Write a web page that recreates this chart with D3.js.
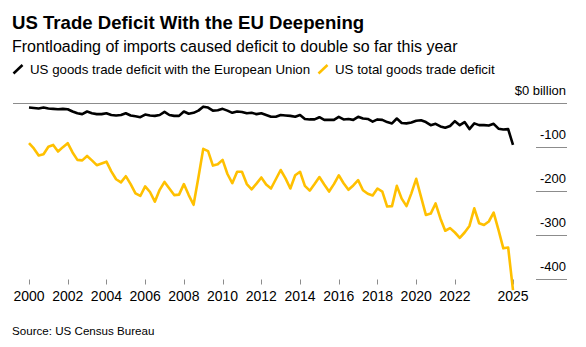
<!DOCTYPE html>
<html>
<head>
<meta charset="utf-8">
<script src="https://cdn.jsdelivr.net/npm/d3@7"></script>
<style>
  body { margin: 0; background: #fff; }
  text { font-family: "Liberation Sans", Arial, sans-serif; }
</style>
</head>
<body>
<div id="chart"></div>
<script>
// quarterly values, 2000 Q1 .. 2025 Q1, $ billion
var startYear = 2000;
var euDeficit = [
  -11, -12, -13, -11,  -13, -14, -15, -14,  -15, -20, -24, -26,  -20, -24, -26, -26,
  -24, -28, -29, -28,  -24, -29, -31, -33,  -27, -29, -30, -28,  -21, -28, -30, -30,
  -20, -25, -23, -18,  -9, -11, -18, -17,  -14, -18, -23, -20,  -21, -24, -23, -26,
  -24, -28, -32, -32,  -28, -29, -30, -32,  -28, -37, -38, -38,  -33, -39, -39, -39,
  -32, -38, -37, -39,  -32, -36, -37, -43,  -38, -39, -44, -47,  -36, -46, -47, -45,
  -41, -40, -44, -51,  -48, -54, -57, -53,  -42, -51, -44, -60,  -47, -51, -51, -52,
  -48, -59, -61, -60,  -96
];
var totalDeficit = [
  -92, -104, -120, -117,  -100, -96, -111, -101,  -92, -113, -130, -131,  -121, -131, -142, -138,
  -134, -156, -174, -181,  -167, -185, -206, -212,  -190, -203, -225, -198,  -180, -195, -210, -209,
  -185, -210, -232, -170,  -105, -110, -143, -140,  -130, -162, -183, -157,  -157, -185, -197, -184,
  -170, -186, -195, -174,  -153, -172, -195, -165,  -157, -189, -200, -185,  -169, -186, -202, -185,
  -165, -183, -198, -188,  -176, -199, -207, -211,  -195, -202, -236, -235,  -189, -218, -235, -206,
  -173, -214, -255, -252,  -229, -263, -291, -285,  -295, -307, -295, -280,  -240, -274, -278, -270,
  -250, -289, -331, -329,  -426
];
var yTicks = [0, -100, -200, -300, -400];
var xTicks = [2000, 2002, 2004, 2006, 2008, 2010, 2012, 2014, 2016, 2018, 2020, 2022, 2025];
var seriesNames = ["US goods trade deficit with the European Union", "US total goods trade deficit"];
var seriesColors = ["#000000", "#ffc000"];

(function() {
  var width = 586, height = 347;

  var svg = d3.select("#chart")
    .append("svg")
    .attr("width", width)
    .attr("height", height);

  // titles
  svg.append("text").attr("x", 12).attr("y", 28.5)
    .style("font-size", "18.6px").style("font-weight", "bold").attr("fill", "#000")
    .text("US Trade Deficit With the EU Deepening");
  svg.append("text").attr("x", 12).attr("y", 52)
    .style("font-size", "16px").attr("fill", "#000")
    .text("Frontloading of imports caused deficit to double so far this year");

  // legend
  var legendX = [13, 318];
  seriesNames.forEach(function(name, i) {
    var g = svg.append("g").attr("transform", "translate(" + legendX[i] + ",0)");
    g.append("line")
      .attr("x1", 0.5).attr("y1", 73.5).attr("x2", 9.5).attr("y2", 65)
      .attr("stroke", seriesColors[i]).attr("stroke-width", 2.5);
    g.append("text").attr("x", 17).attr("y", 74)
      .style("font-size", "13.3px").attr("fill", "#000")
      .text(name);
  });

  var xScale = d3.scaleLinear().domain([2000, 2025]).range([29, 513]);
  var yScale = d3.scaleLinear().domain([0, -400]).range([102.7, 278.7]);

  // y grid + labels on the right
  var yg = svg.append("g");
  yg.selectAll("line")
    .data(yTicks)
    .enter()
    .append("line")
    .attr("x1", (d) => d === 0 ? 13 : 536)
    .attr("x2", 567)
    .attr("y1", (d) => Math.round(yScale(d)) + 0.5)
    .attr("y2", (d) => Math.round(yScale(d)) + 0.5)
    .attr("stroke", "#8c8c8c").attr("stroke-width", 1);
  yg.selectAll("text")
    .data(yTicks)
    .enter()
    .append("text")
    .attr("x", 566)
    .attr("y", (d) => yScale(d) - 7.5)
    .attr("text-anchor", "end")
    .style("font-size", "13px")
    .attr("fill", "#000")
    .text((d) => d === 0 ? "$0 billion" : d);

  // x axis ticks
  var xg = svg.append("g");
  xg.selectAll("line")
    .data(xTicks)
    .enter()
    .append("line")
    .attr("x1", (d) => Math.round(xScale(d)) + 0.5)
    .attr("x2", (d) => Math.round(xScale(d)) + 0.5)
    .attr("y1", 279.5).attr("y2", 284.5)
    .attr("stroke", "#8c8c8c").attr("stroke-width", 1);
  xg.selectAll("text")
    .data(xTicks)
    .enter()
    .append("text")
    .attr("x", (d) => xScale(d))
    .attr("y", 301)
    .attr("text-anchor", "middle")
    .style("font-size", "14px")
    .attr("fill", "#000")
    .text((d) => d);

  // lines
  var line = d3.line()
    .x((d, i) => xScale(startYear + i / 4))
    .y((d) => yScale(d));

  [euDeficit, totalDeficit].forEach(function(values, i) {
    svg.append("path")
      .datum(values)
      .attr("d", line)
      .attr("fill", "none")
      .attr("stroke", seriesColors[i])
      .attr("stroke-width", 2.6)
      .attr("stroke-linejoin", "round");
  });

  svg.append("text").attr("x", 12).attr("y", 335)
    .style("font-size", "11.6px").attr("fill", "#000")
    .text("Source: US Census Bureau");
})();
</script>
</body>
</html>
